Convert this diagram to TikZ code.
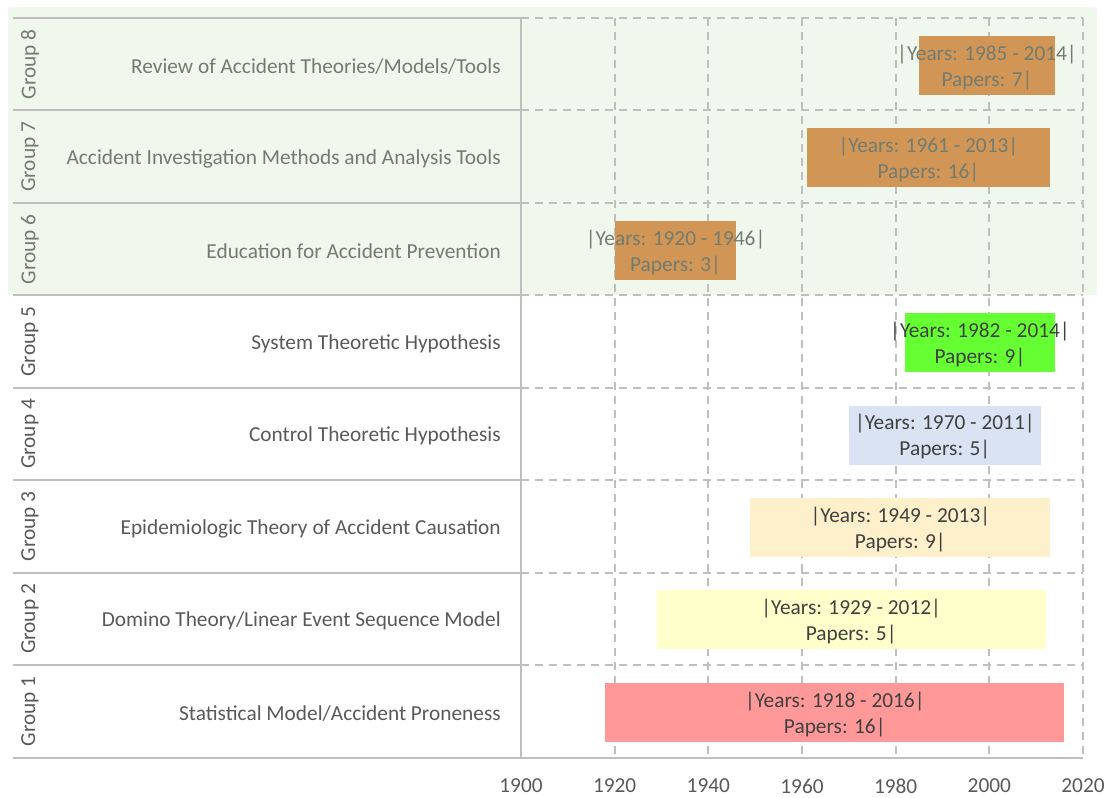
\documentclass[tikz,border=0pt]{standalone}
\usepackage{fontspec}
\setmainfont{Carlito}
\definecolor{gridgray}{HTML}{BFBFBF}
\definecolor{axisgray}{HTML}{BFBFBF}
\definecolor{labelgray}{HTML}{595959}
\definecolor{barlabel}{HTML}{404040}
\definecolor{mutedtext}{HTML}{737C70}
\definecolor{shadegreen}{HTML}{F0F7EC}
\definecolor{orangebar}{HTML}{D19656}
\definecolor{limebar}{HTML}{66FF33}
\definecolor{bluebar}{HTML}{DAE3F3}
\definecolor{peachbar}{HTML}{FFF0CC}
\definecolor{yellowbar}{HTML}{FFFFCC}
\definecolor{redbar}{HTML}{FF9999}
\begin{document}
\begin{tikzpicture}[x=0.75pt,y=-0.75pt,
  font=\fontsize{16}{19.5}\selectfont,
  gridline/.style={draw=gridgray,line width=1.5pt,dash pattern=on 6pt off 4.5pt},
  axisline/.style={draw=axisgray,line width=1.5pt},
  barbox/.style={rectangle,inner sep=0pt,minimum height=44.25pt,draw=none},
  barlabel/.style={align=center,inner sep=0pt},
  rowlabel/.style={anchor=east,inner sep=0pt},
  grouplabel/.style={rotate=90,inner sep=0pt}]
\useasboundingbox (0,0) rectangle (1110,797);
% shaded band behind groups 6-8
\fill[shadegreen] (8,7) rectangle (1097,295.3);
% vertical dashed grid lines, 1920 ... 2020
\foreach \yr in {1920,1940,1960,1980,2000,2020}
  \draw[gridline] ({521+(\yr-1900)*4.6833},18) -- ({521+(\yr-1900)*4.6833},757.6);
% horizontal row separators: solid on the label side, dashed on the plot side
\foreach \k in {0,...,7}{
  \draw[axisline] (13,{18+\k*92.45}) -- (521,{18+\k*92.45});
  \draw[gridline] (521,{18+\k*92.45}) -- (1083,{18+\k*92.45});
}
\draw[axisline] (13,757.6) -- (1083,757.6);
\draw[axisline] (521,18) -- (521,757.6);
% year axis labels
\foreach \yr in {1900,1920,1940,1960,1980,2000,2020}
  \node[text=labelgray,inner sep=0pt] (ax\yr) at ({521+(\yr-1900)*4.6833},786) {\yr};
% rows: index / title / start / end / papers / bar colour / text colour
\foreach \i/\title/\ys/\ye/\np/\bc/\tc in {
  1/Statistical Model\slash Accident Proneness/1918/2016/16/redbar/labelgray,
  2/Domino Theory\slash Linear Event Sequence Model/1929/2012/5/yellowbar/labelgray,
  3/Epidemiologic Theory of Accident Causation/1949/2013/9/peachbar/labelgray,
  4/Control Theoretic Hypothesis/1970/2011/5/bluebar/labelgray,
  5/System Theoretic Hypothesis/1982/2014/9/limebar/labelgray,
  6/Education for Accident Prevention/1920/1946/3/orangebar/mutedtext,
  7/Accident Investigation Methods and Analysis Tools/1961/2013/16/orangebar/mutedtext,
  8/Review of Accident Theories\slash Models\slash Tools/1985/2014/7/orangebar/mutedtext}{
  \pgfmathsetmacro{\yc}{757.6-(\i-0.5)*92.45}
  \pgfmathsetmacro{\xa}{521+(\ys-1900)*4.6833}
  \pgfmathsetmacro{\xb}{521+(\ye-1900)*4.6833}
  \node[grouplabel,text=\tc] (grp\i) at (30,\yc) {Group \i};
  \node[rowlabel,text=\tc] (row\i) at (501,\yc+2) {\title};
  \node[barbox,fill=\bc,minimum width={(\xb-\xa)*0.75pt}] (bar\i) at ({(\xa+\xb)/2},\yc+1) {};
  \ifnum\i>5
    \node[barlabel,text=mutedtext] (lab\i) at ([yshift=-1.5pt]bar\i.center) {|Years: \ys\ - \ye|\\Papers: \np|};
  \else
    \node[barlabel,text=barlabel] (lab\i) at ([yshift=-1.5pt]bar\i.center) {|Years: \ys\ - \ye|\\Papers: \np|};
  \fi
}
\end{tikzpicture}
\end{document}
